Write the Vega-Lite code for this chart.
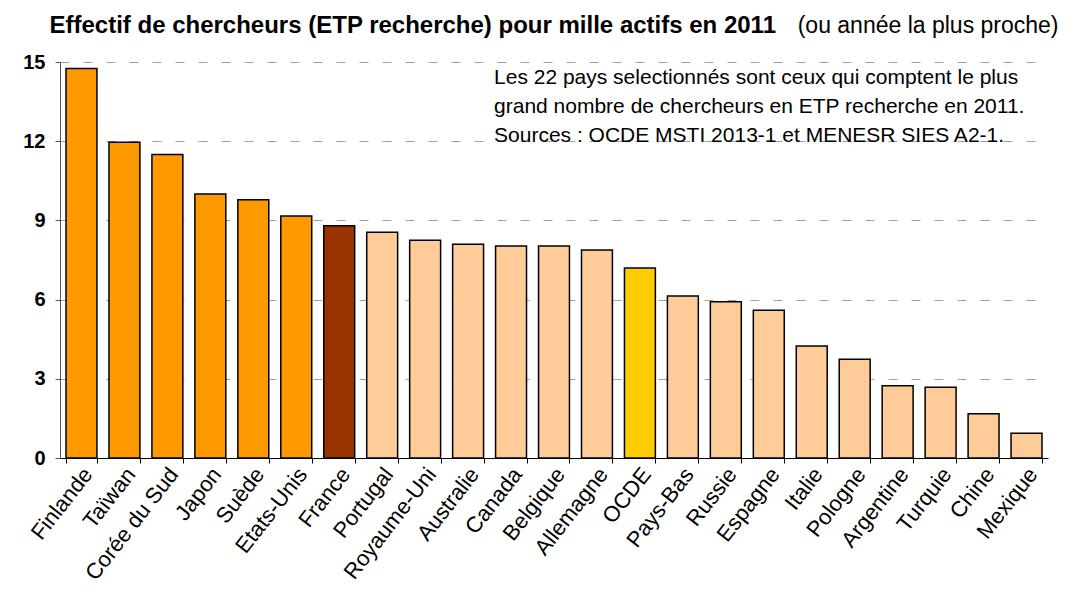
{
  "$schema": "https://vega.github.io/schema/vega-lite/v6.json",
  "width": 988,
  "height": 396,
  "autosize": "none",
  "padding": {"left": 60, "top": 62, "right": 35, "bottom": 142},
  "background": "white",
  "config": {
    "font": "Liberation Sans",
    "view": {"stroke": null}
  },
  "layer": [
    {
      "data": {
        "values": [
          {"pays": "Finlande", "valeur": 14.75, "groupe": "haut"},
          {"pays": "Taïwan", "valeur": 11.96, "groupe": "haut"},
          {"pays": "Corée du Sud", "valeur": 11.5, "groupe": "haut"},
          {"pays": "Japon", "valeur": 10.0, "groupe": "haut"},
          {"pays": "Suède", "valeur": 9.78, "groupe": "haut"},
          {"pays": "Etats-Unis", "valeur": 9.17, "groupe": "haut"},
          {"pays": "France", "valeur": 8.8, "groupe": "France"},
          {"pays": "Portugal", "valeur": 8.55, "groupe": "autre"},
          {"pays": "Royaume-Uni", "valeur": 8.25, "groupe": "autre"},
          {"pays": "Australie", "valeur": 8.1, "groupe": "autre"},
          {"pays": "Canada", "valeur": 8.03, "groupe": "autre"},
          {"pays": "Belgique", "valeur": 8.03, "groupe": "autre"},
          {"pays": "Allemagne", "valeur": 7.88, "groupe": "autre"},
          {"pays": "OCDE", "valeur": 7.2, "groupe": "OCDE"},
          {"pays": "Pays-Bas", "valeur": 6.14, "groupe": "autre"},
          {"pays": "Russie", "valeur": 5.92, "groupe": "autre"},
          {"pays": "Espagne", "valeur": 5.6, "groupe": "autre"},
          {"pays": "Italie", "valeur": 4.24, "groupe": "autre"},
          {"pays": "Pologne", "valeur": 3.74, "groupe": "autre"},
          {"pays": "Argentine", "valeur": 2.74, "groupe": "autre"},
          {"pays": "Turquie", "valeur": 2.68, "groupe": "autre"},
          {"pays": "Chine", "valeur": 1.68, "groupe": "autre"},
          {"pays": "Mexique", "valeur": 0.94, "groupe": "autre"}
        ]
      },
      "mark": {"type": "bar", "stroke": "black", "strokeWidth": 1.5},
      "encoding": {
        "x": {
          "field": "pays",
          "type": "nominal",
          "sort": null,
          "scale": {"paddingInner": 0.28, "paddingOuter": 0.14},
          "axis": {
            "title": null,
            "labelAngle": -52,
            "labelFontSize": 22,
            "labelColor": "black",
            "labelPadding": 7,
            "labelOffset": 6,
            "tickBand": "extent",
            "tickSize": 5,
            "tickColor": "black",
            "domainColor": "black",
            "domainWidth": 1.2,
            "grid": false
          }
        },
        "y": {
          "field": "valeur",
          "type": "quantitative",
          "scale": {"domain": [0, 15], "nice": false},
          "axis": {
            "title": null,
            "values": [0, 3, 6, 9, 12, 15],
            "labelFontSize": 20,
            "labelFontWeight": "bold",
            "labelColor": "black",
            "labelPadding": 10,
            "tickSize": 5,
            "tickColor": "#555555",
            "domainColor": "#555555",
            "grid": true,
            "gridColor": "#a0a0a0",
            "gridDash": [9, 14],
            "gridWidth": 1.2
          }
        },
        "color": {
          "field": "groupe",
          "type": "nominal",
          "scale": {
            "domain": ["haut", "France", "autre", "OCDE"],
            "range": ["#FF9900", "#993300", "#FFCC99", "#FFCC00"]
          },
          "legend": null
        }
      }
    },
    {
      "data": {"values": [{"t": "Effectif de chercheurs (ETP recherche) pour mille actifs en 2011"}]},
      "mark": {
        "type": "text",
        "align": "left",
        "baseline": "alphabetic",
        "fontSize": 24,
        "fontWeight": "bold",
        "color": "black",
        "dx": -32,
        "dy": -29
      },
      "encoding": {
        "x": {"datum": "Finlande"},
        "y": {"datum": 15},
        "text": {"field": "t"}
      }
    },
    {
      "data": {"values": [{"t": "(ou année la plus proche)"}]},
      "mark": {
        "type": "text",
        "align": "right",
        "baseline": "alphabetic",
        "fontSize": 23,
        "color": "black",
        "dx": 32,
        "dy": -29
      },
      "encoding": {
        "x": {"datum": "Mexique"},
        "y": {"datum": 15},
        "text": {"field": "t"}
      }
    },
    {
      "data": {
        "values": [
          {"note": "Les 22 pays selectionnés sont ceux qui comptent le plus\ngrand nombre de chercheurs en ETP recherche en 2011.\nSources : OCDE MSTI 2013-1 et MENESR SIES A2-1."}
        ]
      },
      "mark": {
        "type": "text",
        "align": "left",
        "baseline": "alphabetic",
        "fontSize": 21,
        "lineHeight": 29,
        "lineBreak": "\n",
        "color": "black",
        "dx": -17,
        "dy": 22
      },
      "encoding": {
        "x": {"datum": "Canada"},
        "y": {"datum": 15},
        "text": {"field": "note"}
      }
    }
  ]
}
